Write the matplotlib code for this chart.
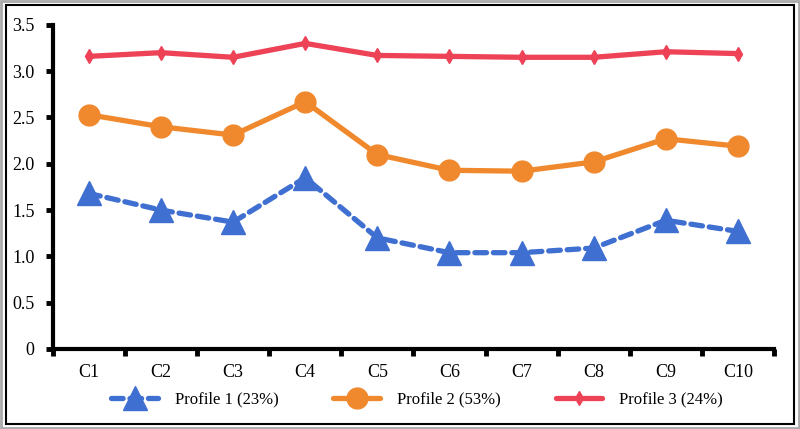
import matplotlib
matplotlib.use("Agg")
import matplotlib.pyplot as plt
from matplotlib.patches import Rectangle

categories = ["C1", "C2", "C3", "C4", "C5", "C6", "C7", "C8", "C9", "C10"]
profile1 = [1.68, 1.50, 1.37, 1.85, 1.20, 1.04, 1.04, 1.09, 1.39, 1.27]
profile2 = [2.53, 2.40, 2.31, 2.67, 2.10, 1.93, 1.92, 2.02, 2.27, 2.19]
profile3 = [3.16, 3.20, 3.15, 3.30, 3.17, 3.16, 3.15, 3.15, 3.21, 3.19]
labels = ["Profile 1 (23%)", "Profile 2 (53%)", "Profile 3 (24%)"]
yticks = [0, 0.5, 1.0, 1.5, 2.0, 2.5, 3.0, 3.5]
ytick_labels = ["0", "0.5", "1.0", "1.5", "2.0", "2.5", "3.0", "3.5"]

plt.rcParams['font.family'] = ['Liberation Serif', 'DejaVu Serif']

fig = plt.figure(figsize=(8, 4.29), dpi=100)
ax = fig.add_axes([0.066, 0.1865, 0.9015, 0.7555])

x = list(range(len(categories)))
ax.plot(x, profile1, color="#3F6FD1", lw=3.8, ls=(0, (2.2, 1.3)), marker="^",
        markersize=17, label=labels[0], dash_capstyle="round")
ax.plot(x, profile2, color="#F0892E", lw=3.8, marker="o", markersize=15,
        label=labels[1], solid_capstyle="round")
ax.plot(x, profile3, color="#EE4257", lw=3.8, marker="d", markersize=7,
        label=labels[2], solid_capstyle="round")

ax.set_xlim(-0.5, len(categories) - 0.5)
ax.set_ylim(0, 3.5)
ax.set_yticks(yticks)
ax.set_yticklabels(ytick_labels, fontsize=13)
ax.set_xticks(x)
ax.set_xticklabels(categories, fontsize=13)
ax.set_xticks([i - 0.5 for i in range(len(categories) + 1)], minor=True)
ax.tick_params(axis='x', which='major', length=0, pad=11)
ax.tick_params(axis='x', which='minor', length=5, width=3.5, direction='out')
ax.tick_params(axis='y', length=5, width=3.5, direction='out', pad=8)
for s in ["top", "right"]:
    ax.spines[s].set_visible(False)
for s in ["left", "bottom"]:
    ax.spines[s].set_linewidth(3)
    ax.spines[s].set_color("black")

ax.legend(loc="upper center", bbox_to_anchor=(0.505, -0.085), ncol=3, frameon=False,
          fontsize=12, handlelength=2.8, columnspacing=3.3, handletextpad=1.0)

fig.patches.append(Rectangle((0.0015, 0.002), 0.997, 0.995, transform=fig.transFigure,
                             fill=False, edgecolor="#aaaaaa", lw=2))
fig.patches.append(Rectangle((0.007, 0.012), 0.986, 0.976, transform=fig.transFigure,
                             fill=False, edgecolor="black", lw=1.5))

fig.savefig("out.png", dpi=100)
